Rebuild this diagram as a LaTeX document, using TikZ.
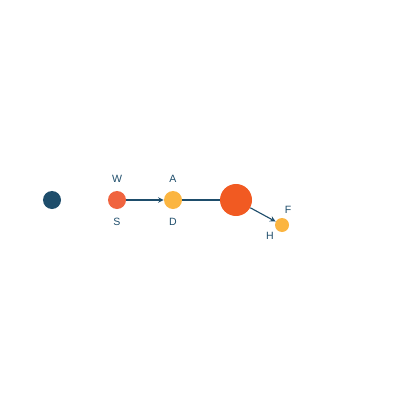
\documentclass[tikz,border=0pt]{standalone}
\usepackage{fontspec}
\setmainfont{Liberation Sans}
\usepackage{tikz}
\usetikzlibrary{arrows, positioning}

\definecolor{navy}{HTML}{1E4D6B}
\definecolor{coral}{HTML}{F0643F}
\definecolor{amber}{HTML}{FBB541}
\definecolor{flame}{HTML}{F15A22}

\begin{document}
\begin{tikzpicture}[
    x=0.025cm, y=-0.025cm,
    dot/.style={circle, inner sep=0pt, minimum size=0.45cm},
    key/.style={font=\fontsize{7.5}{9}\selectfont, text=navy, inner sep=0pt},
    arrow/.style={->, >=stealth, navy, line width=0.8pt},
    link/.style={navy, line width=0.8pt},
]
\useasboundingbox (0,0) rectangle (400,400);

% Circles
\node[dot, fill=navy] (start) at (52, 200) {};
\node[dot, fill=coral] (ws) at (117, 200) {};
\node[dot, fill=amber] (ad) at (173, 200) {};
\node[dot, fill=flame, minimum size=0.8cm] (hub) at (236, 200) {};
\node[dot, fill=amber, minimum size=0.35cm] (fh) at (282, 225) {};

% Labels
\node[key] (w) at (117, 179) {W};
\node[key] (s) at (117, 222) {S};
\node[key] (a) at (173, 179) {A};
\node[key] (d) at (173, 222) {D};
\node[key] (f) at (288, 210) {F};
\node[key] (h) at (270, 236) {H};

% Arrows
\draw[arrow] (ws) -- (ad);
\draw[link] (ad) -- (hub);
\draw[arrow] (hub) -- (fh);

\end{tikzpicture}
\end{document}
